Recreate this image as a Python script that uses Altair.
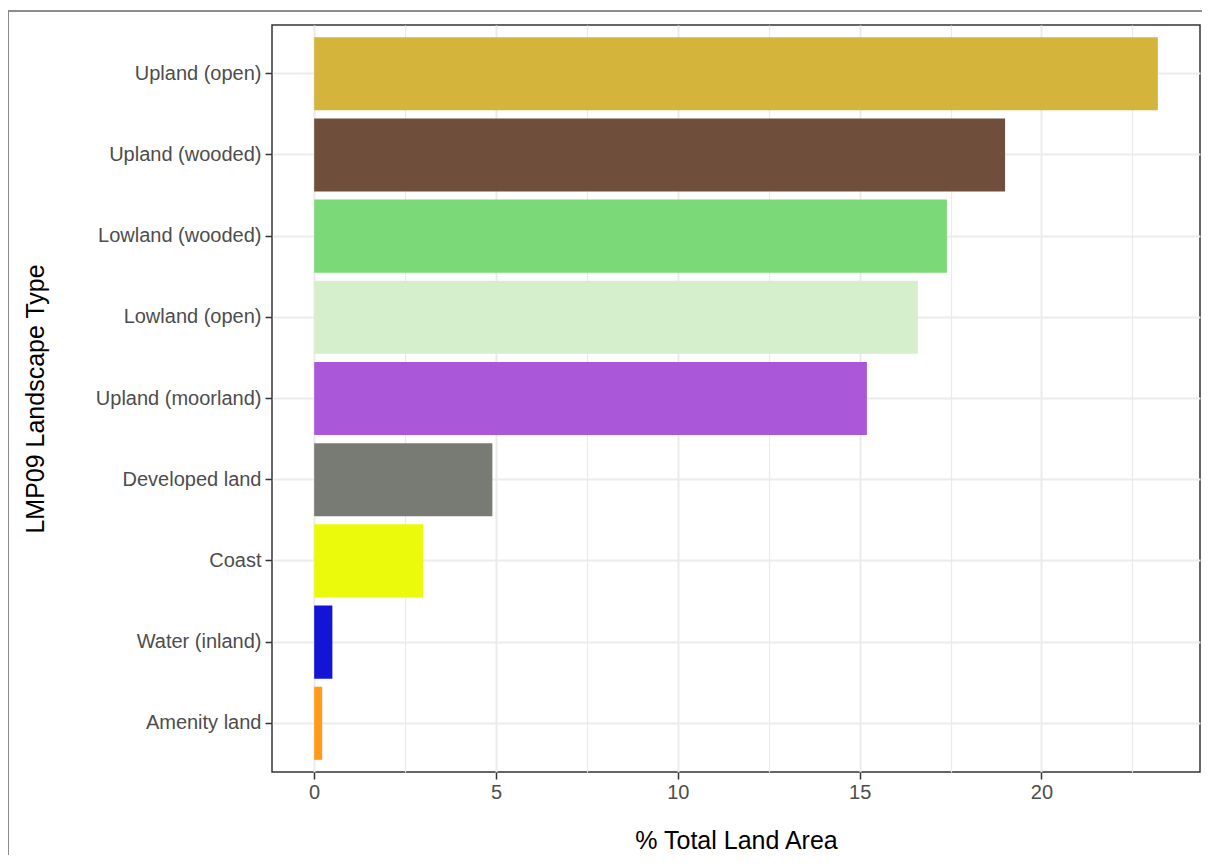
import altair as alt
import pandas as pd

categories = ["Upland (open)", "Upland (wooded)", "Lowland (wooded)", "Lowland (open)",
              "Upland (moorland)", "Developed land", "Coast", "Water (inland)", "Amenity land"]
values = [23.2, 19.0, 17.4, 16.6, 15.2, 4.9, 3.0, 0.5, 0.22]
colors = ["#D5B43B", "#6F4E3B", "#7CD977", "#D5EECB", "#AB57D9", "#787A74", "#EBFA0B", "#1414D6", "#FF9A1A"]
x_ticks = [0, 2.5, 5, 7.5, 10, 12.5, 15, 17.5, 20, 22.5]

df = pd.DataFrame({"type": categories, "pct": values})

FONT = "Liberation Sans"
GRID = "#EBEBEB"

bars = alt.Chart(df).mark_bar().encode(
    x=alt.X("pct:Q", title="% Total Land Area",
            scale=alt.Scale(domain=[-1.16, 24.36], nice=False, zero=False),
            axis=alt.Axis(values=x_ticks, grid=True, gridColor=GRID,
                          gridWidth={"condition": {"test": "datum.value % 5 === 0", "value": 2}, "value": 1.2},
                          tickOpacity={"condition": {"test": "datum.value % 5 === 0", "value": 1}, "value": 0},
                          labelExpr="datum.value % 5 === 0 ? datum.label : ''",
                          domain=False, tickSize=7, tickWidth=1.5, tickColor="#333333",
                          labelPadding=3, labelFontSize=20, labelColor="#4D4D4D", labelFont=FONT,
                          titleFontSize=25, titleFont=FONT, titleColor="#000000", titleFontWeight="normal",
                          titleY=56)),
    y=alt.Y("type:N", sort=categories, title="LMP09 Landscape Type",
            scale=alt.Scale(paddingInner=0.1, paddingOuter=0.15),
            axis=alt.Axis(grid=True, gridColor=GRID, gridWidth=2, domain=False,
                          tickSize=7, tickWidth=1.5, tickColor="#333333",
                          labelPadding=4, labelFontSize=20, labelColor="#4D4D4D", labelFont=FONT,
                          labelLimit=400,
                          titleFontSize=25, titleFont=FONT, titleColor="#000000", titleFontWeight="normal",
                          titleX=-224)),
    color=alt.Color("type:N", scale=alt.Scale(domain=categories, range=colors), legend=None),
)

frame_top = alt.Chart(df).mark_rule(color="#8C8C8C", strokeWidth=1.2).encode(
    x=alt.value(-264), x2=alt.value(930), y=alt.value(-14))
frame_left = alt.Chart(df).mark_rule(color="#8C8C8C", strokeWidth=1.2).encode(
    x=alt.value(-264), y=alt.value(-14), y2=alt.value(830))

chart = alt.layer(bars, frame_top, frame_left).properties(
    width=928, height=747,
    autosize=alt.AutoSizeParams(type="none"),
    padding={"left": 264, "top": 17, "right": 2, "bottom": 83},
    background="white",
).configure_view(stroke="#333333", strokeWidth=1.5)

chart.save("out.html", embed_options={"renderer": "svg", "actions": False})
